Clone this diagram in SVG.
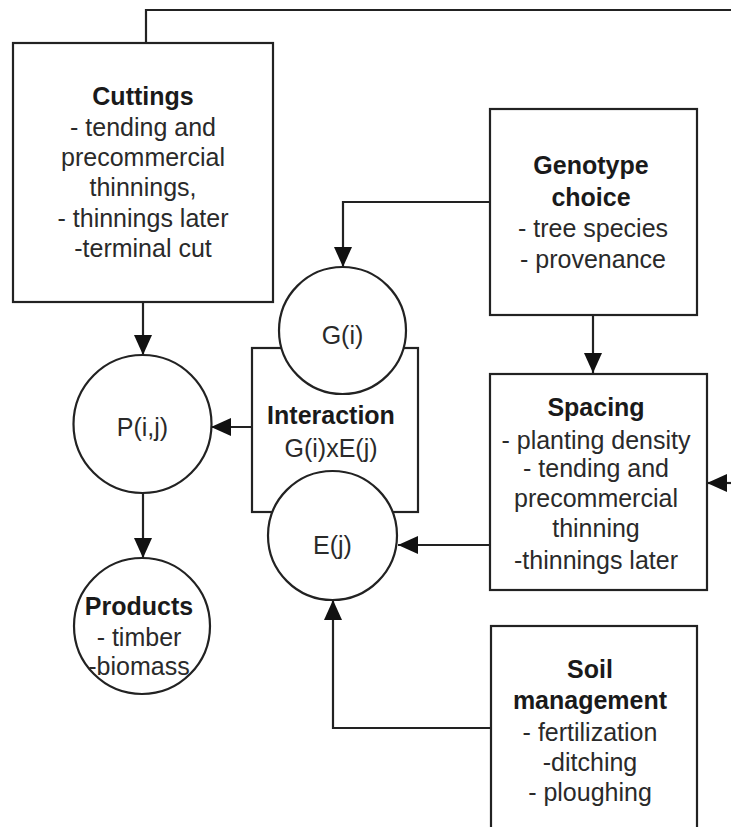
<svg xmlns="http://www.w3.org/2000/svg" width="731" height="827" viewBox="0 0 731 827">
<style>
.box{fill:#fff;stroke:#222;stroke-width:2.2}
.ln{fill:none;stroke:#222;stroke-width:2.2}
text{font-family:"Liberation Sans",Arial,sans-serif;font-size:25px;fill:#2a2a2a;text-anchor:middle}
.b{font-weight:bold;fill:#1a1a1a}
</style>
<defs>
<marker id="ah" markerUnits="userSpaceOnUse" markerWidth="20" markerHeight="18" refX="20" refY="9" orient="auto">
<path d="M0,0 L20,9 L0,18 z" fill="#111"/>
</marker>
</defs>
<g id="connectors">
<path class="ln" d="M146,43 V10 H731"/>
<path class="ln" d="M731,483 H707" marker-end="url(#ah)"/>
<path class="ln" d="M143,302 V355" marker-end="url(#ah)"/>
<path class="ln" d="M143,493 V558" marker-end="url(#ah)"/>
<path class="ln" d="M252,427 H211" marker-end="url(#ah)"/>
<path class="ln" d="M490,202 H343 V267" marker-end="url(#ah)"/>
<path class="ln" d="M593,315 V373" marker-end="url(#ah)"/>
<path class="ln" d="M490,545 H398" marker-end="url(#ah)"/>
<path class="ln" d="M491,728 H333 V600" marker-end="url(#ah)"/>
</g>
<g id="cuttings">
<rect class="box" x="13" y="43" width="260" height="259"/>
<text class="b" x="143" y="105">Cuttings</text>
<text x="143" y="136">- tending and</text>
<text x="143" y="166">precommercial</text>
<text x="143" y="196">thinnings,</text>
<text x="143" y="227">- thinnings later</text>
<text x="143" y="257">-terminal cut</text>
</g>
<g id="genotype">
<rect class="box" x="490" y="109" width="207" height="206"/>
<text class="b" x="591" y="174">Genotype</text>
<text class="b" x="591" y="206">choice</text>
<text x="593" y="237">- tree species</text>
<text x="593" y="268">- provenance</text>
</g>
<g id="interaction">
<rect class="box" x="252" y="348" width="166" height="164"/>
<text class="b" x="331" y="424">Interaction</text>
<text x="331" y="457">G(i)xE(j)</text>
</g>
<g id="gi">
<circle class="box" cx="342.5" cy="330.5" r="63.5"/>
<text x="342.5" y="344">G(i)</text>
</g>
<g id="ej">
<circle class="box" cx="332.5" cy="535.5" r="64.5"/>
<text x="332.5" y="554">E(j)</text>
</g>
<g id="pij">
<circle class="box" cx="142.5" cy="424" r="69"/>
<text x="142.5" y="436">P(i,j)</text>
</g>
<g id="products">
<circle class="box" cx="142" cy="626" r="68"/>
<text class="b" x="139" y="615">Products</text>
<text x="139" y="646">- timber</text>
<text x="139" y="675">-biomass</text>
</g>
<g id="spacing">
<rect class="box" x="490" y="374" width="217" height="216"/>
<text class="b" x="596" y="416">Spacing</text>
<text x="596" y="449">- planting density</text>
<text x="596" y="477">- tending and</text>
<text x="596" y="507">precommercial</text>
<text x="596" y="537">thinning</text>
<text x="596" y="569">-thinnings later</text>
</g>
<g id="soil">
<rect class="box" x="491" y="626" width="206" height="210"/>
<text class="b" x="590" y="678">Soil</text>
<text class="b" x="590" y="709">management</text>
<text x="590" y="741">- fertilization</text>
<text x="590" y="771">-ditching</text>
<text x="590" y="801">- ploughing</text>
</g>
</svg>
